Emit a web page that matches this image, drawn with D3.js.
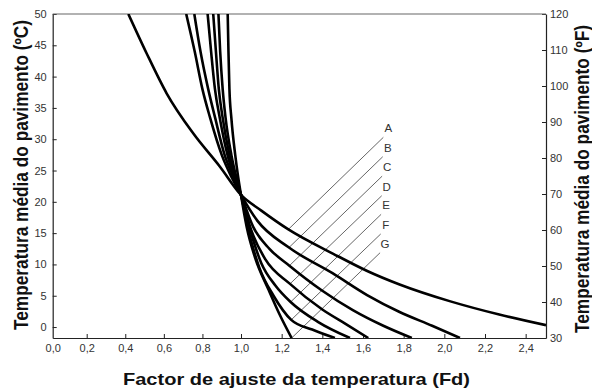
<!DOCTYPE html>
<html><head><meta charset="utf-8">
<script src="https://cdn.jsdelivr.net/npm/d3@7"></script>
<style>
html,body{margin:0;padding:0;background:#fff;}
svg{display:block;font-family:"Liberation Sans",Arial,sans-serif;}
</style></head>
<body><svg id="c" width="592" height="389"></svg>
<script>
// ---- data ----
const curveNames = ["A","B","C","D","E","F","G"];
// each curve: Fd values and matching temperatures (°C), top-left to bottom-right
const curveFd = [
  [0.416,0.511,0.615,0.753,0.891,1.0,1.1,1.233,1.454,1.618,1.78,2.03,2.27,2.5],
  [0.716,0.76,0.80,0.84,0.90,0.95,1.0,1.08,1.236,1.45,1.62,1.78,1.94,2.077],
  [0.758,0.79,0.83,0.866,0.915,0.96,1.0,1.06,1.14,1.238,1.4,1.55,1.7,1.84],
  [0.827,0.845,0.865,0.89,0.93,0.965,1.0,1.05,1.12,1.241,1.4,1.52,1.626],
  [0.856,0.87,0.885,0.905,0.94,0.97,1.0,1.045,1.1,1.17,1.244,1.38,1.536],
  [0.883,0.892,0.905,0.92,0.95,0.975,1.0,1.04,1.09,1.16,1.247,1.35,1.462],
  [0.931,0.935,0.94,0.95,0.97,0.985,1.0,1.028,1.07,1.135,1.19,1.249]
];
const curveTemp = [
  [50,43.7,37.3,30.9,25.6,21.1,18.6,15.6,11.7,9.0,6.8,4.1,2.0,0.3],
  [50,44,38,33.4,27.5,24,21.1,17.0,12.7,8.6,5.1,2.4,0.2,-1.75],
  [50,44,38,33.4,27.5,24,21.1,16,12.5,9.8,5.8,2.7,0.2,-1.75],
  [50,44,38,33.4,27.5,24,21.1,15.5,10.8,6.9,2.8,0.4,-1.75],
  [50,44,38,33.4,27.5,24,21.1,15.5,10.2,6.6,4.0,0.8,-1.75],
  [50,44,38,33.4,27.5,24,21.1,15,9.5,5.0,1.15,-0.4,-1.75],
  [50,44,38,33.4,27.5,24,21.1,16,11,6,2,-1.75]
];
// leader lines from labels to curves
const leaderTopFd = [1.700,1.697,1.694,1.692,1.689,1.687,1.684];
const leaderTopT  = [30.3,27.2,24.1,20.97,18.0,14.86,11.87];
const leaderEndFd = [1.233,1.236,1.238,1.241,1.244,1.247,1.249];
const leaderEndT  = [15.6,12.7,9.8,6.9,4.0,1.15,-1.75];
const xTicks = [0,0.2,0.4,0.6,0.8,1.0,1.2,1.4,1.6,1.8,2.0,2.2,2.4];
const yTicksC = [0,5,10,15,20,25,30,35,40,45,50];
const yTicksF = [30,40,50,60,70,80,90,100,110,120];
const xTitle = "Factor de ajuste da temperatura (Fd)";
const yTitleC = "Temperatura média do pavimento (ºC)";
const yTitleF = "Temperatura média do pavimento (ºF)";

// ---- layout ----
const L = 52.7, R = 546, T = 14, B = 338;
const svg = d3.select("#c");
const x = d3.scaleLinear().domain([0, 0.2, 1.0, 2.5]).range([L, 86.7, 241, R]);
const yC = d3.scaleLinear().domain([-1.75, 50]).range([B, T]);
const yF = d3.scaleLinear().domain([30, 120]).range([B, T]);

svg.append("defs").append("clipPath").attr("id","clip")
  .append("rect").attr("x",L).attr("y",T).attr("width",R-L).attr("height",B-T);

const fmt = d => d.toFixed(1).replace(".", ",");
const tickColor = "#333";

const gx = svg.append("g").attr("transform",`translate(0,${B})`)
  .call(d3.axisBottom(x).tickValues(xTicks).tickSizeInner(-4).tickSizeOuter(0).tickPadding(6).tickFormat(fmt));
const gl = svg.append("g").attr("transform",`translate(${L},0)`)
  .call(d3.axisLeft(yC).tickValues(yTicksC).tickSizeInner(-4).tickSizeOuter(0).tickPadding(6));
const gr = svg.append("g").attr("transform",`translate(${R},0)`)
  .call(d3.axisRight(yF).tickValues(yTicksF).tickSizeInner(-4).tickSizeOuter(0).tickPadding(4));
[gx,gl,gr].forEach(g=>{
  g.selectAll("text").attr("font-size",11).attr("fill",tickColor).attr("font-family","Liberation Sans, Arial, sans-serif");
  g.selectAll("line").attr("stroke","#222");
  g.select(".domain").attr("stroke","#222").attr("stroke-width",1.2);
});
gx.selectAll(".tick").filter(d=>d===0).select("line").remove();
// top border
svg.append("line").attr("x1",L).attr("x2",R).attr("y1",T).attr("y2",T).attr("stroke","#666").attr("stroke-width",1.2);

// leader lines
const gLead = svg.append("g");
curveNames.forEach((n,i)=>{
  gLead.append("line")
    .attr("x1",x(leaderTopFd[i])).attr("y1",yC(leaderTopT[i]))
    .attr("x2",x(leaderEndFd[i])).attr("y2",yC(leaderEndT[i]))
    .attr("stroke","#555").attr("stroke-width",0.9);
  gLead.append("text").text(n)
    .attr("x",x(leaderTopFd[i])+5).attr("y",yC(leaderTopT[i])-5)
    .attr("font-size",11.5).attr("fill","#333").attr("text-anchor","middle");
});

// curves
const line = d3.line().x(d=>x(d[0])).y(d=>yC(d[1])).curve(d3.curveMonotoneX);
const gC = svg.append("g").attr("clip-path","url(#clip)");
curveNames.forEach((n,i)=>{
  const pts = curveFd[i].map((v,j)=>[v, curveTemp[i][j]]);
  gC.append("path").attr("d", line(pts)).attr("fill","none")
    .attr("stroke","#000").attr("stroke-width",2.6);
});

// titles
svg.append("text").text(xTitle).attr("x",296.5).attr("y",385)
  .attr("text-anchor","middle").attr("font-size",17).attr("font-weight","bold").attr("fill","#111")
  .attr("textLength",347).attr("lengthAdjust","spacingAndGlyphs");
svg.append("text").text(yTitleC).attr("transform",`translate(28,175) rotate(-90) scale(1,1.15)`)
  .attr("text-anchor","middle").attr("font-size",17).attr("font-weight","bold").attr("fill","#111")
  .attr("textLength",310).attr("lengthAdjust","spacingAndGlyphs");
svg.append("text").text(yTitleF).attr("transform",`translate(588.5,179) rotate(-90) scale(1,1.15)`)
  .attr("text-anchor","middle").attr("font-size",17).attr("font-weight","bold").attr("fill","#111")
  .attr("textLength",308).attr("lengthAdjust","spacingAndGlyphs");
</script></body></html>
